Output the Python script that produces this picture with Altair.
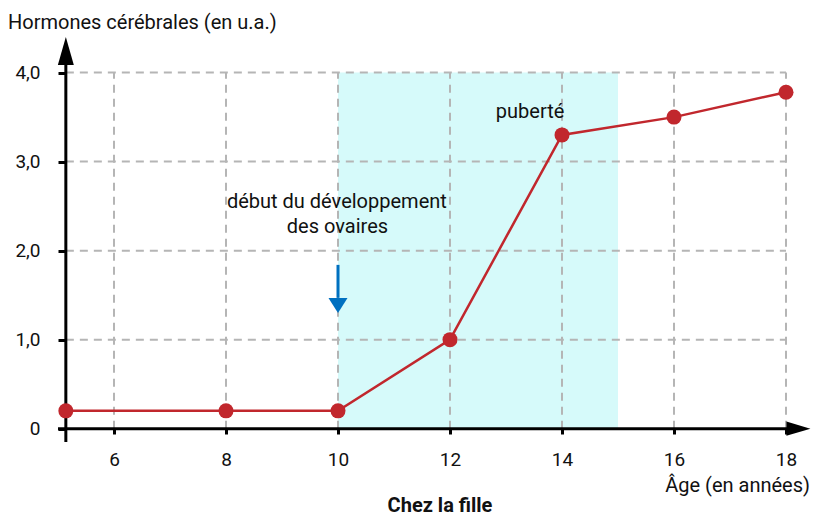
import altair as alt
import pandas as pd

# ---- data ----
ages = [5.14, 8, 10, 12, 14, 16, 18]
hormones = [0.2, 0.2, 0.2, 1.0, 3.3, 3.5, 3.78]

x_ticks = [6, 8, 10, 12, 14, 16, 18]
y_ticks = [0, 1, 2, 3, 4]
grid_x = [6, 8, 10, 12, 14, 16, 18]
grid_y = [1, 2, 3, 4]

band_start = [10]
band_end = [15]

annot_text = ["puberté", "début du développement", "des ovaires"]
annot_x = [13.43, 9.98, 9.99]
annot_y = [3.49, 2.48, 2.20]

arrow_x = [10]
arrow_top = [1.84]
arrow_tip = [1.30]

# ---- layout constants ----
PLOT_W = 753
X_MIN, X_MAX = 5.0, 5.0 + PLOT_W / 56.0
Y_MIN, Y_MAX = -0.15, 4.4
Y_AXIS_X = 5.14
FONT = "Roboto"
RED = "#c1272d"
GRID = "#b5b5b5"
TXT = "#111111"

xs = alt.Scale(domain=[X_MIN, X_MAX], nice=False, zero=False, padding=0)
ys = alt.Scale(domain=[Y_MIN, Y_MAX], nice=False, zero=False, padding=0)

x_axis = alt.Axis(values=x_ticks, domain=False, grid=False, tickColor="black", tickWidth=3,
                  tickSize=5, offset=-13, labelPadding=31, labelBaseline="alphabetic",
                  labelFont=FONT, labelFontSize=19, labelColor=TXT, format="d", title=None)
y_axis = alt.Axis(values=y_ticks, domain=False, grid=False, tickColor="black", tickWidth=3,
                  tickSize=8, offset=-8, labelPadding=18, labelFont=FONT, labelFontSize=19,
                  labelColor=TXT, title=None,
                  labelExpr="datum.value == 0 ? '0' : replace(format(datum.value, '.1f'), '.', ',')")

def X(field):
    return alt.X(field, type="quantitative", scale=xs, axis=x_axis)

def Y(field):
    return alt.Y(field, type="quantitative", scale=ys, axis=y_axis)

line_df = pd.DataFrame({"age": ages, "h": hormones})
band_df = pd.DataFrame({"x1": band_start, "x2": band_end, "y1": [0], "y2": [4]})
gx_df = pd.DataFrame({"x": grid_x, "y1": 0, "y2": 4})
gy_df = pd.DataFrame({"y": grid_y, "x1": Y_AXIS_X, "x2": 18})
ann_df = pd.DataFrame({"t": annot_text, "x": annot_x, "y": annot_y})
arr_df = pd.DataFrame({"x": arrow_x, "y1": arrow_top, "y2": [v + 0.17 for v in arrow_tip], "tip": arrow_tip})

band = alt.Chart(band_df).mark_rect(color="#d6fafa").encode(
    x=X("x1"), x2="x2", y=Y("y1"), y2="y2")

vgrid = alt.Chart(gx_df).mark_rule(color=GRID, strokeWidth=2, strokeDash=[8, 6]).encode(
    x=X("x"), y=Y("y1"), y2="y2")
hgrid = alt.Chart(gy_df).mark_rule(color=GRID, strokeWidth=2, strokeDash=[8, 6]).encode(
    x=X("x1"), x2="x2", y=Y("y"))

# axis lines with arrowheads
xaxis_line = alt.Chart(pd.DataFrame({"x1": [X_MIN], "x2": [X_MAX - 0.4], "y": [0]})).mark_rule(
    color="black", strokeWidth=3).encode(x=X("x1"), x2="x2", y=Y("y"))
yaxis_line = alt.Chart(pd.DataFrame({"x": [Y_AXIS_X], "y1": [Y_MIN], "y2": [4.15]})).mark_rule(
    color="black", strokeWidth=3).encode(x=X("x"), y=Y("y1"), y2="y2")
xhead = alt.Chart(pd.DataFrame({"x": [X_MAX - 0.01], "y": [0]})).mark_point(
    shape="M0,0L-2,-0.6L-2,0.6Z", size=576, filled=True, color="black", opacity=1).encode(
    x=X("x"), y=Y("y"))
yhead = alt.Chart(pd.DataFrame({"x": [Y_AXIS_X], "y": [Y_MAX]})).mark_point(
    shape="M0,0L0.57,2L-0.57,2Z", size=784, filled=True, color="black", opacity=1).encode(
    x=X("x"), y=Y("y"))

line = alt.Chart(line_df).mark_line(color=RED, strokeWidth=2.5).encode(x=X("age"), y=Y("h"))
pts = alt.Chart(line_df).mark_circle(color=RED, size=225, opacity=1).encode(x=X("age"), y=Y("h"))

blue = "#0070c0"
arr_line = alt.Chart(arr_df).mark_rule(color=blue, strokeWidth=3).encode(
    x=X("x"), y=Y("y1"), y2="y2")
arr_head = alt.Chart(arr_df).mark_point(
    shape="M0,0L1.27,-2L-1.27,-2Z", size=225, filled=True, color=blue, opacity=1).encode(
    x=X("x"), y=Y("tip"))

ann = alt.Chart(ann_df).mark_text(font=FONT, fontSize=20, color=TXT, align="center",
                                  baseline="alphabetic").encode(x=X("x"), y=Y("y"), text="t")

ytitle = alt.Chart(pd.DataFrame({"t": ["Hormones cérébrales (en u.a.)"]})).mark_text(
    font=FONT, fontSize=20, color=TXT, align="left", baseline="alphabetic").encode(
    x=alt.value(-50), y=alt.value(-8), text="t")
xtitle = alt.Chart(pd.DataFrame({"t": ["Âge (en années)"]})).mark_text(
    font=FONT, fontSize=20, color=TXT, align="right", baseline="alphabetic").encode(
    x=alt.value(PLOT_W - 1), y=alt.value(455), text="t")
caption = alt.Chart(pd.DataFrame({"t": ["Chez la fille"]})).mark_text(
    font=FONT, fontSize=20, fontWeight="bold", color=TXT, align="center",
    baseline="alphabetic").encode(x=alt.value(382), y=alt.value(475), text="t")

chart = alt.layer(
    band, vgrid, hgrid, xaxis_line, yaxis_line, xhead, yhead, line, pts,
    arr_line, arr_head, ann, ytitle, xtitle, caption
).properties(
    width=PLOT_W, height=405,
    padding={"left": 50, "top": 29, "right": 0, "bottom": 77},
    autosize=alt.AutoSizeParams(type="none"),
    background="white",
).configure_view(stroke=None)

chart.save("out.html", embed_options={"renderer": "svg", "actions": False})
